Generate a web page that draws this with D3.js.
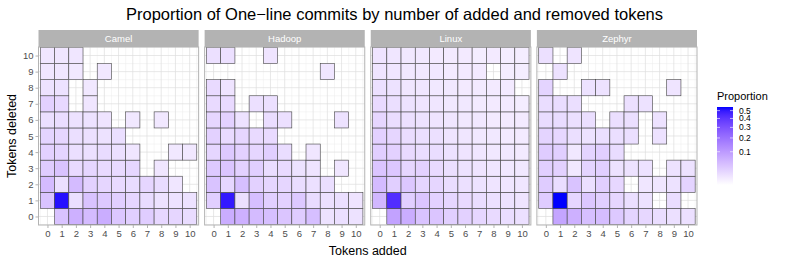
<!DOCTYPE html>
<html lang="en">
<head>
<meta charset="utf-8">
<title>One-line commits heatmap</title>
<script src="https://d3js.org/d3.v7.min.js"></script>
<style>
  body { margin: 0; background: #fff; }
  text { font-family: "Liberation Sans", Arial, sans-serif; }
</style>
</head>
<body>
<script>
// facets and axis values
var projects = ["Camel", "Hadoop", "Linux", "Zephyr"];
var added = [0, 1, 2, 3, 4, 5, 6, 7, 8, 9, 10];
var deleted = [0, 1, 2, 3, 4, 5, 6, 7, 8, 9, 10];
var legendTicks = [0.1, 0.2, 0.3, 0.4, 0.5];

// proportions, one row per tokens deleted (0 first), columns = tokens added 0..10
var _ = null;
var camel = [
  [_, 0.035, 0.060, 0.045, 0.065, 0.030, 0.022, 0.024, 0.015, 0.016, 0.012],
  [0.035, 0.52, 0.010, 0.035, 0.028, 0.022, 0.016, 0.012, 0.008, 0.008, 0.008],
  [0.045, 0.010, 0.045, 0.020, 0.016, 0.013, 0.012, 0.016, 0.012, 0.006, _],
  [0.025, 0.035, 0.013, 0.016, 0.013, 0.013, 0.016, _, 0.006, _, _],
  [0.020, 0.018, 0.010, 0.009, 0.012, 0.009, 0.006, _, _, 0.005, 0.005],
  [0.018, 0.016, 0.010, 0.009, 0.008, 0.010, _, _, _, _, _],
  [0.010, 0.011, 0.008, 0.008, 0.007, _, 0.005, _, 0.005, _, _],
  [0.020, 0.014, _, 0.006, _, _, _, _, _, _, _],
  [0.008, 0.008, _, 0.005, _, _, _, _, _, _, _],
  [0.006, 0.006, 0.005, _, 0.005, _, _, _, _, _, _],
  [0.006, 0.006, 0.006, _, _, _, _, _, _, _, _]
];
var hadoop = [
  [_, 0.065, 0.060, 0.045, 0.040, 0.032, 0.025, 0.040, 0.008, 0.010, 0.008],
  [0.022, 0.50, 0.010, 0.040, 0.022, 0.020, 0.028, 0.012, 0.009, 0.010, 0.007],
  [0.035, 0.016, 0.040, 0.020, 0.016, 0.016, 0.011, 0.009, 0.010, _, _],
  [0.028, 0.032, 0.020, 0.022, 0.011, 0.013, 0.008, 0.007, _, 0.006, _],
  [0.016, 0.028, 0.020, 0.016, 0.022, 0.011, _, 0.006, _, _, _],
  [0.020, 0.013, 0.016, 0.013, 0.013, _, _, _, _, _, _],
  [0.016, 0.020, 0.008, _, 0.011, 0.009, _, _, _, 0.008, _],
  [0.013, 0.013, _, 0.009, 0.009, _, _, _, _, _, _],
  [0.013, 0.007, _, _, _, _, _, _, _, _, _],
  [_, _, _, _, _, _, _, _, 0.006, _, _],
  [0.009, 0.009, _, _, 0.007, _, _, _, _, _, _]
];
var linux = [
  [_, 0.085, 0.065, 0.035, 0.032, 0.022, 0.020, 0.016, 0.013, 0.011, 0.009],
  [0.050, 0.43, 0.022, 0.032, 0.020, 0.016, 0.013, 0.011, 0.009, 0.008, 0.007],
  [0.045, 0.022, 0.030, 0.017, 0.016, 0.011, 0.009, 0.008, 0.007, 0.006, 0.006],
  [0.032, 0.030, 0.016, 0.020, 0.013, 0.010, 0.008, 0.007, 0.006, 0.005, 0.005],
  [0.022, 0.020, 0.013, 0.011, 0.011, 0.008, 0.007, 0.006, 0.005, 0.005, 0.004],
  [0.020, 0.016, 0.011, 0.010, 0.009, 0.007, 0.006, 0.005, 0.005, 0.004, 0.004],
  [0.016, 0.011, 0.009, 0.008, 0.007, 0.006, 0.005, 0.005, 0.004, 0.004, 0.004],
  [0.013, 0.010, 0.008, 0.007, 0.006, 0.005, 0.005, 0.004, 0.004, 0.004, 0.003],
  [0.009, 0.008, 0.006, 0.006, 0.005, 0.005, 0.004, 0.004, 0.004, 0.004, _],
  [0.007, 0.006, 0.005, 0.005, 0.005, 0.004, 0.004, 0.004, _, 0.003, 0.003],
  [0.007, 0.006, 0.005, 0.005, 0.004, 0.004, 0.004, 0.003, 0.004, 0.003, 0.003]
];
var zephyr = [
  [_, 0.080, 0.060, 0.040, 0.042, 0.028, 0.018, 0.015, 0.011, 0.009, 0.009],
  [0.025, 0.55, 0.016, 0.030, 0.022, 0.016, 0.010, 0.008, _, 0.011, _],
  [0.025, 0.011, 0.035, 0.010, 0.022, 0.015, _, 0.006, 0.006, 0.008, 0.018],
  [0.022, 0.020, 0.005, 0.018, 0.022, 0.008, 0.008, 0.008, _, 0.008, 0.008],
  [0.025, 0.022, 0.005, 0.018, 0.022, 0.012, _, _, _, _, _],
  [0.018, 0.015, 0.010, 0.008, 0.010, 0.010, 0.010, _, 0.008, _, _],
  [0.012, 0.012, 0.010, 0.010, _, 0.010, 0.010, _, 0.008, _, _],
  [0.011, 0.011, 0.010, _, _, _, 0.009, 0.008, _, _, _],
  [0.018, _, _, 0.008, 0.008, _, _, _, _, 0.007, _],
  [_, 0.008, _, _, _, _, _, _, _, _, _],
  [0.009, _, 0.007, _, _, _, _, _, _, _, _]
];
var grids = [camel, hadoop, linux, zephyr];

// flatten into tiles
var tiles = [];
grids.forEach(function(g, p) {
  g.forEach(function(row, d) {
    row.forEach(function(v, a) {
      if (v !== null) tiles.push({ project: projects[p], added: added[a], deleted: deleted[d], value: v });
    });
  });
});

var width = 789, height = 263;
var panelLeft = 38.5, panelRight = 697, panelGap = 6;
var stripTop = 30, stripH = 17, panelTop = 47, panelBottom = 225;
var panelW = (panelRight - panelLeft - 3 * panelGap) / 4;

var svg = d3.select("body").append("svg")
  .attr("width", width)
  .attr("height", height);

var fx = d3.scaleBand().domain(projects)
  .range([panelLeft, panelRight])
  .paddingInner(panelGap / (panelW + panelGap));

var x = d3.scaleLinear().domain([-0.63, 10.63]).range([0, panelW]);
var y = d3.scaleLinear().domain([-0.53, 10.53]).range([panelBottom, panelTop]);

var maxVal = d3.max(tiles, function(d) { return d.value; });
var color = d3.scaleSqrt().domain([0, maxVal])
  .range(["#ffffff", "#0000ff"])
  .interpolate(d3.interpolateLab);

// title
svg.append("text")
  .attr("x", width / 2).attr("y", 20)
  .attr("text-anchor", "middle")
  .attr("font-size", 16.5)
  .attr("fill", "#000")
  .text("Proportion of One\u2212line commits by number of added and removed tokens");

var panels = svg.selectAll(".panel")
  .data(projects)
  .enter().append("g")
  .attr("class", "panel")
  .attr("transform", function(d) { return "translate(" + fx(d) + ",0)"; });

// strips
panels.append("rect")
  .attr("x", 0).attr("y", stripTop)
  .attr("width", panelW).attr("height", stripH)
  .attr("fill", "#b3b3b3");
panels.append("text")
  .attr("x", panelW / 2).attr("y", stripTop + stripH / 2)
  .attr("dy", "0.35em")
  .attr("text-anchor", "middle")
  .attr("font-size", 9.5)
  .attr("fill", "#fff")
  .text(function(d) { return d; });

// grid
panels.each(function() {
  var g = d3.select(this);
  var minor = d3.range(-0.5, 11, 1);
  g.selectAll(".vmin").data(minor).enter().append("line")
    .attr("x1", function(d) { return x(d); }).attr("x2", function(d) { return x(d); })
    .attr("y1", panelTop).attr("y2", panelBottom)
    .attr("stroke", "#ececec").attr("stroke-width", 0.5);
  g.selectAll(".hmin").data(minor).enter().append("line")
    .attr("y1", function(d) { return y(d); }).attr("y2", function(d) { return y(d); })
    .attr("x1", 0).attr("x2", panelW)
    .attr("stroke", "#ececec").attr("stroke-width", 0.5);
  g.selectAll(".vmaj").data(added).enter().append("line")
    .attr("x1", function(d) { return x(d); }).attr("x2", function(d) { return x(d); })
    .attr("y1", panelTop).attr("y2", panelBottom)
    .attr("stroke", "#dedede").attr("stroke-width", 0.7);
  g.selectAll(".hmaj").data(deleted).enter().append("line")
    .attr("y1", function(d) { return y(d); }).attr("y2", function(d) { return y(d); })
    .attr("x1", 0).attr("x2", panelW)
    .attr("stroke", "#dedede").attr("stroke-width", 0.7);
});

// tiles
panels.each(function(p) {
  d3.select(this).selectAll(".tile")
    .data(tiles.filter(function(t) { return t.project === p; }))
    .enter().append("rect")
    .attr("class", "tile")
    .attr("x", function(d) { return x(d.added - 0.5); })
    .attr("y", function(d) { return y(d.deleted + 0.5); })
    .attr("width", x(1) - x(0))
    .attr("height", y(0) - y(1))
    .attr("fill", function(d) { return color(d.value); })
    .attr("stroke", "#444")
    .attr("stroke-width", 0.6);
});

// panel border
panels.append("rect")
  .attr("x", 0).attr("y", panelTop)
  .attr("width", panelW).attr("height", panelBottom - panelTop)
  .attr("fill", "none")
  .attr("stroke", "#b3b3b3")
  .attr("stroke-width", 1);

// x axes
panels.each(function() {
  var ax = d3.select(this).append("g")
    .attr("transform", "translate(0," + panelBottom + ")")
    .call(d3.axisBottom(x).tickValues(added).tickSize(3).tickPadding(2).tickSizeOuter(0));
  ax.select(".domain").remove();
  ax.selectAll("line").attr("stroke", "#b3b3b3");
  ax.selectAll("text").attr("fill", "#4d4d4d").attr("font-size", 9.5)
    .attr("font-family", "Liberation Sans, Arial, sans-serif");
});

// y axis on the first panel
var ay = svg.append("g")
  .attr("transform", "translate(" + panelLeft + ",0)")
  .call(d3.axisLeft(y).tickValues(deleted).tickSize(3).tickPadding(2).tickSizeOuter(0));
ay.select(".domain").remove();
ay.selectAll("line").attr("stroke", "#b3b3b3");
ay.selectAll("text").attr("fill", "#4d4d4d").attr("font-size", 9.5)
  .attr("font-family", "Liberation Sans, Arial, sans-serif");

// axis titles
svg.append("text")
  .attr("x", (panelLeft + panelRight) / 2).attr("y", 255)
  .attr("text-anchor", "middle")
  .attr("font-size", 12.5)
  .text("Tokens added");
svg.append("text")
  .attr("transform", "translate(16," + ((panelTop + panelBottom) / 2) + ") rotate(-90)")
  .attr("text-anchor", "middle")
  .attr("font-size", 12.5)
  .text("Tokens deleted");

// legend
var legX = 717, legW = 16, legTop = 107, legBottom = 185;
svg.append("text")
  .attr("x", legX).attr("y", 100)
  .attr("font-size", 11)
  .text("Proportion");

var ly = d3.scaleSqrt().domain([0, maxVal]).range([legBottom, legTop]);
var grad = svg.append("defs").append("linearGradient")
  .attr("id", "legGrad")
  .attr("x1", 0).attr("y1", 1).attr("x2", 0).attr("y2", 0);
d3.range(0, 1.0001, 0.05).forEach(function(f) {
  grad.append("stop")
    .attr("offset", f)
    .attr("stop-color", color(ly.invert(legBottom - f * (legBottom - legTop))));
});
svg.append("rect")
  .attr("x", legX).attr("y", legTop)
  .attr("width", legW).attr("height", legBottom - legTop)
  .attr("fill", "url(#legGrad)");

var lt = svg.selectAll(".ltick").data(legendTicks).enter().append("g");
lt.append("line")
  .attr("x1", legX).attr("x2", legX + 3)
  .attr("y1", function(d) { return ly(d); }).attr("y2", function(d) { return ly(d); })
  .attr("stroke", "#fff").attr("stroke-width", 0.6);
lt.append("line")
  .attr("x1", legX + legW - 3).attr("x2", legX + legW)
  .attr("y1", function(d) { return ly(d); }).attr("y2", function(d) { return ly(d); })
  .attr("stroke", "#fff").attr("stroke-width", 0.6);
lt.append("text")
  .attr("x", legX + legW + 6).attr("y", function(d) { return ly(d); })
  .attr("dy", "0.35em")
  .attr("font-size", 8.5)
  .text(function(d) { return d; });
</script>
</body>
</html>
